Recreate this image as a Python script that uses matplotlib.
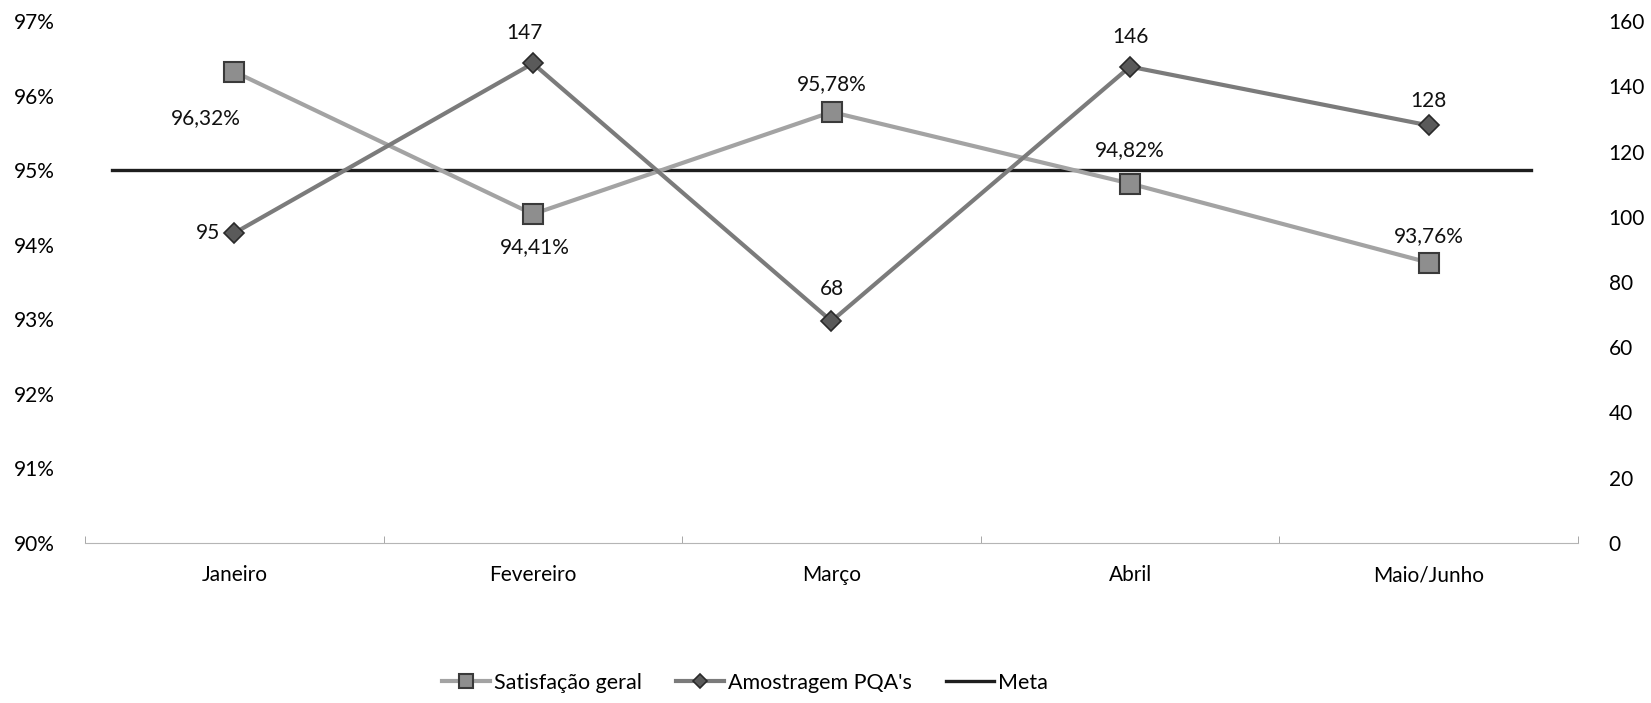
import numpy as np
import matplotlib.pyplot as plt
from matplotlib.ticker import FixedLocator

plt.rcParams['font.family'] = ['Lato', 'DejaVu Sans']

meses = ['Janeiro', 'Fevereiro', 'Março', 'Abril', 'Maio/Junho']
satisfacao = [96.32, 94.41, 95.78, 94.82, 93.76]
amostragem = [95, 147, 68, 146, 128]
meta = 95.0

sat_labels = ['96,32%', '94,41%', '95,78%', '94,82%', '93,76%']
# label offsets in pixels (dx, dy up) relative to the marker
sat_offsets = [(-28, -46), (2, -33), (0, 28), (0, 33), (0, 27)]
amo_offsets = [(-26, 0), (-8, 30), (0, 32), (0, 30), (0, 24)]

fig = plt.figure(figsize=(16.51, 7.03), dpi=100)
ax = fig.add_axes([85/1651, 1-543/703, 1493/1651, 522/703])
ax2 = ax.twinx()

x = np.arange(len(meses)) + 0.5

ax.axhline(meta, xmin=(112-85)/1493, xmax=(1531-85)/1493, color='#1e1e1e', lw=2.4, zorder=3)
l1, = ax.plot(x, satisfacao, color='#a3a3a3', lw=3, marker='s', ms=14,
              mfc='#8e8e8e', mec='#3a3a3a', mew=1.5, zorder=4)
l2, = ax2.plot(x, amostragem, color='#7b7b7b', lw=3, marker='D', ms=10,
               mfc='#5a5a5a', mec='#2a2a2a', mew=1.2, zorder=4)

for xi, v, t, (dx, dy) in zip(x, satisfacao, sat_labels, sat_offsets):
    ax.annotate(t, (xi, v), xytext=(dx, dy), textcoords='offset pixels',
                ha='center', va='center', fontsize=15, color='#111111')
for i, (xi, v) in enumerate(zip(x, amostragem)):
    dx, dy = amo_offsets[i]
    ax2.annotate(str(v), (xi, v), xytext=(dx, dy), textcoords='offset pixels',
                 ha='center', va='center', fontsize=15, color='#111111')

ax.set_xlim(0, len(meses))
ax.set_ylim(90, 97)
ax2.set_ylim(0, 160)
ax.set_yticks(np.arange(90, 98, 1))
ax.set_yticklabels([f'{v}%' for v in range(90, 98)])
ax2.set_yticks(np.arange(0, 161, 20))

ax.set_xticks(x)
ax.set_xticklabels(meses)
ax.xaxis.set_minor_locator(FixedLocator(np.arange(0, len(meses) + 1)))
ax.tick_params(axis='x', which='major', length=0, pad=16, labelsize=15)
ax.tick_params(axis='x', which='minor', length=5, direction='in', color='#999999')
ax.tick_params(axis='y', length=0, pad=22, labelsize=15)
ax2.tick_params(axis='y', length=0, pad=22, labelsize=15)

for a in (ax, ax2):
    for s in ('top', 'left', 'right'):
        a.spines[s].set_visible(False)
ax.spines['bottom'].set_color('#b5b5b5')
ax2.spines['bottom'].set_visible(False)

meta_handle = plt.Line2D([], [], color='#1e1e1e', lw=2.4)
fig.legend([l1, l2, meta_handle], ['Satisfação geral', "Amostragem PQA's", 'Meta'],
           loc='center', bbox_to_anchor=(745/1651, 1-683/703), ncol=3, frameon=False,
           fontsize=15.5, handlelength=2.2, handletextpad=0.2, columnspacing=1.6,
           markerscale=0.75)

fig.savefig('out.png', dpi=100)
